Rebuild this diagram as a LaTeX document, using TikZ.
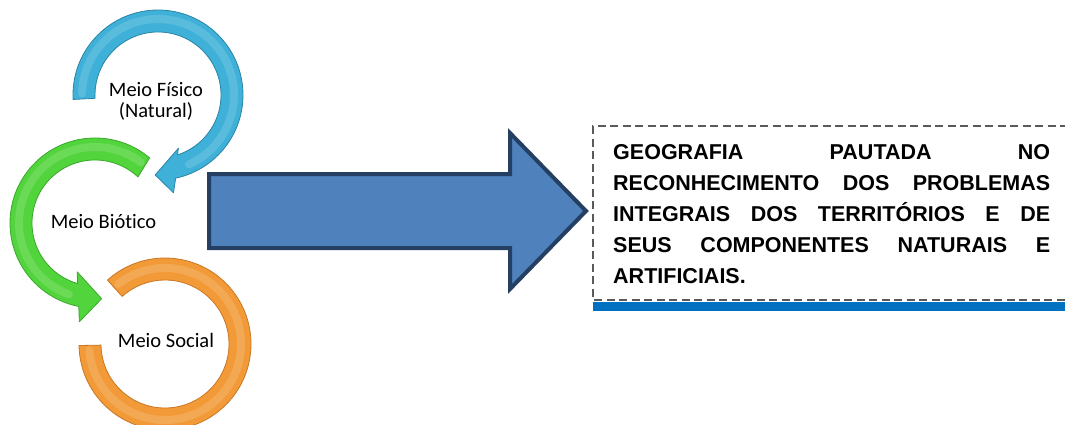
\documentclass[tikz,border=0pt]{standalone}
\usepackage{fontspec}
\setmainfont{Carlito}[Ligatures=NoCommon]
\newfontfamily\boxfont{Liberation Sans}
\usetikzlibrary{calc}
\definecolor{ringblue}{HTML}{3FB1D8}
\definecolor{ringblueedge}{HTML}{2A84A6}
\definecolor{ringgreen}{HTML}{52D43C}
\definecolor{ringgreenedge}{HTML}{38A82A}
\definecolor{ringorange}{HTML}{F29A38}
\definecolor{ringorangeedge}{HTML}{C97722}
\definecolor{arrowfill}{HTML}{4F81BD}
\definecolor{arrowedge}{HTML}{253F62}
\definecolor{dashgray}{HTML}{5A5A5A}
\definecolor{barblue}{HTML}{0070C0}
\newcommand{\fullline}[1]{\hbox to 437pt{#1}}
\begin{document}
\begin{tikzpicture}[x=1pt,y=1pt,
  ringlabel/.style={font=\fontsize{20.5}{21}\selectfont, inner sep=0pt, align=center, text=black},
  bluering/.style={fill=ringblue, draw=ringblueedge, line width=0.8pt, line join=round},
  greenring/.style={fill=ringgreen, draw=ringgreenedge, line width=0.8pt, line join=round},
  orangering/.style={fill=ringorange, draw=ringorangeedge, line width=0.8pt, line join=round},
  shine/.style={draw=white, opacity=0.14, line width=8pt, line cap=round},
  bigarrow/.style={fill=arrowfill, draw=arrowedge, line width=4pt, line join=miter},
  dashbox/.style={draw=dashgray, line width=1.8pt, dash pattern=on 8pt off 4.5pt},
  boxtext/.style={font=\boxfont\bfseries\fontsize{21.5}{31}\selectfont, inner sep=0pt, text width=437pt}
]
\useasboundingbox (0,0) rectangle (1065,424);

% ring centres
\coordinate (co) at (165,80);
\coordinate (cg) at (95,201);
\coordinate (cb) at (158,329);

% orange ring (Meio Social)
\path[orangering] ($(co)+(132:86)$) arc[start angle=132, end angle=-179, radius=86]
  -- ($(co)+(-179:64)$) arc[start angle=-179, end angle=132, radius=64] -- cycle;
\draw[shine] ($(co)+(128:76)$) arc[start angle=128, end angle=-175, radius=76];

% green ring (Meio Biotico)
\path[greenring] ($(cg)+(50:85)$) arc[start angle=50, end angle=259, radius=85]
  -- ($(cg)+(261:100)$) -- ($(cg)+(275:76)$) -- ($(cg)+(250:52)$)
  -- ($(cg)+(254:63)$) arc[start angle=254, end angle=47, radius=63] -- cycle;
\draw[shine] ($(cg)+(53:76)$) arc[start angle=53, end angle=250, radius=76];

% blue ring (Meio Fisico)
\path[bluering] ($(cb)+(183:85)$) arc[start angle=183, end angle=-78, radius=85]
  -- ($(cb)+(-81:99)$) -- ($(cb)+(-92:80)$) -- ($(cb)+(-69:57)$)
  -- ($(cb)+(-72:63)$) arc[start angle=-72, end angle=183, radius=63] -- cycle;
\draw[shine] ($(cb)+(179:76)$) arc[start angle=179, end angle=-66, radius=76];

% labels
\node[ringlabel, anchor=base] (fisico) at (156,306) {Meio Físico\\(Natural)};
\node[ringlabel, anchor=base] (biotico) at (103.5,196) {Meio Biótico};
\node[ringlabel, anchor=base] (social) at (166,77) {Meio Social};

% big arrow
\coordinate (a1) at (209,250);
\coordinate (a2) at (510,250);
\coordinate (a3) at (510,291);
\coordinate (a4) at (586,213);
\coordinate (a5) at (510,135);
\coordinate (a6) at (510,176);
\coordinate (a7) at (209,176);
\path[bigarrow] (a1) -- (a2) -- (a3) -- (a4) -- (a5) -- (a6) -- (a7) -- cycle;

% text box
\coordinate (b1) at (1068,298);
\coordinate (b2) at (593,298);
\coordinate (b3) at (593,124);
\coordinate (b4) at (1068,124);
\fill[barblue] (593,113.5) rectangle (1068,122.5);
\draw[dashbox] (b1) -- (b2) -- (b3) -- (b4);
\node[boxtext, anchor=base west] (geo) at (613,265) {%
\fullline{GEOGRAFIA\hfill PAUTADA\hfill NO}
\fullline{RECONHECIMENTO\hfill DOS\hfill PROBLEMAS}
\fullline{INTEGRAIS\hfill DOS\hfill TERRITÓRIOS\hfill E\hfill DE}
\fullline{SEUS\hfill COMPONENTES\hfill NATURAIS\hfill E}
\fullline{ARTIFICIAIS.\hfill}};
\end{tikzpicture}
\end{document}
